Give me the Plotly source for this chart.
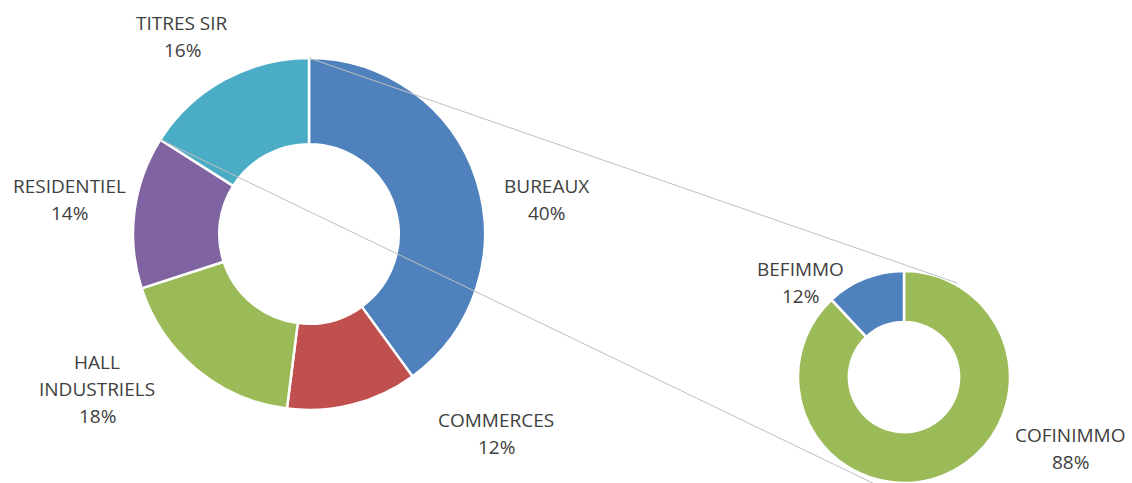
import math
import plotly.graph_objects as go

W, H = 1132, 483

# ---- data ----
main_labels = ["BUREAUX", "COMMERCES", "HALL INDUSTRIELS", "RESIDENTIEL", "TITRES SIR"]
main_values = [40, 12, 18, 14, 16]
main_colors = ["#4F81BD", "#C0504D", "#9BBB59", "#8064A2", "#4BACC6"]

sub_labels = ["COFINIMMO", "BEFIMMO"]
sub_values = [88, 12]
sub_colors = ["#9BBB59", "#4F81BD"]

# label text lines (line breaks as shown)
main_label_lines = [["BUREAUX"], ["COMMERCES"], ["HALL", "INDUSTRIELS"], ["RESIDENTIEL"], ["TITRES SIR"]]
sub_label_lines = [["COFINIMMO"], ["BEFIMMO"]]

# ---- layout geometry (pixels) ----
main_c, main_r = (309, 234), 176
sub_c, sub_r = (904, 377), 106
LINE_H = 27


def px_to_paper(x, y):
    return x / W, 1 - y / H


def dom(c, r):
    x0, x1 = (c[0] - r) / W, (c[0] + r) / W
    y0, y1 = 1 - (c[1] + r) / H, 1 - (c[1] - r) / H
    return dict(x=[x0, x1], y=[max(0, y0), min(1, y1)])


fig = go.Figure()
fig.add_trace(go.Pie(
    labels=main_labels, values=main_values, sort=False, direction="clockwise",
    rotation=0, hole=0.51, textinfo="none", hoverinfo="skip",
    marker=dict(colors=main_colors, line=dict(color="white", width=2.5)),
    domain=dom(main_c, main_r), showlegend=False,
))
fig.add_trace(go.Pie(
    labels=sub_labels, values=sub_values, sort=False, direction="clockwise",
    rotation=0, hole=0.52, textinfo="none", hoverinfo="skip",
    marker=dict(colors=sub_colors, line=dict(color="white", width=2.5)),
    domain=dom(sub_c, sub_r), showlegend=False,
))

# connector lines: from main donut outer edge (top and start of TITRES SIR)
def on_circle(c, r, frac):
    a = 2 * math.pi * frac
    return c[0] + r * math.sin(a), c[1] - r * math.cos(a)

cum_titres = sum(main_values[:4]) / sum(main_values)
p1 = on_circle(main_c, main_r, 0.0)
p2 = on_circle(main_c, main_r, cum_titres)
q1 = on_circle(sub_c, sub_r + 2, 0.082)
q2 = (p2[0] + (H + 5 - p2[1]) / 0.482, H + 5)

shapes = []
for a, b in [(p1, q1), (p2, q2)]:
    x0, y0 = px_to_paper(*a)
    x1, y1 = px_to_paper(*b)
    shapes.append(dict(type="line", xref="paper", yref="paper", x0=x0, y0=y0, x1=x1, y1=y1,
                       line=dict(color="#BFBFBF", width=1), layer="above"))

# label positions (pixel centres of label blocks)
main_label_pos = [(546, 200), (496, 433), (97, 389), (69, 200), (182, 37)]
sub_label_pos = [(1070, 448), (800, 282)]

annotations = []
for lines, val, pos in list(zip(main_label_lines, main_values, main_label_pos)) + \
        list(zip(sub_label_lines, sub_values, sub_label_pos)):
    all_lines = lines + [f"{val}%"]
    n = len(all_lines)
    for i, t in enumerate(all_lines):
        yy = pos[1] + (i - (n - 1) / 2) * LINE_H
        x, y = px_to_paper(pos[0], yy)
        annotations.append(dict(
            x=x, y=y, xref="paper", yref="paper", showarrow=False,
            text=t, align="center", xanchor="center", yanchor="middle",
            font=dict(family="Open Sans", size=19, color="#404040"),
        ))

fig.update_layout(
    width=W, height=H, margin=dict(l=0, r=0, t=0, b=0),
    paper_bgcolor="white", plot_bgcolor="white",
    shapes=shapes, annotations=annotations,
)
fig.write_html(
    "out.html",
    config={"displayModeBar": False},
    post_script="document.body.style.margin='0';document.body.style.overflow='hidden';",
)
